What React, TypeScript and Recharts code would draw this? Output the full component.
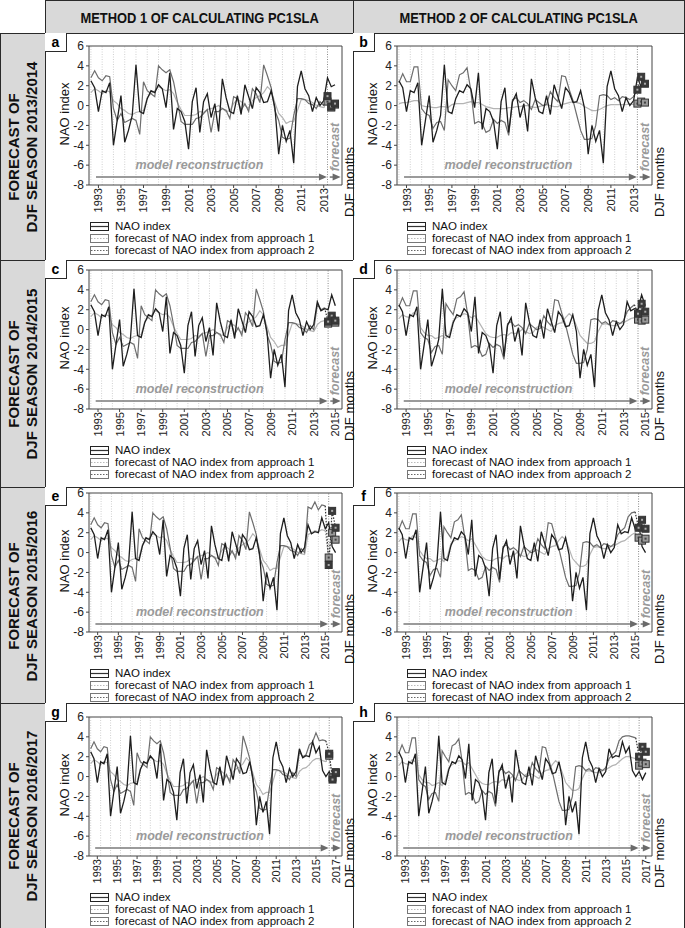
import React from 'react';
import { ComposedChart, Line, XAxis, YAxis, ReferenceLine } from 'recharts';

// DJF seasons (season "1993" = Dec 1992, Jan 1993, Feb 1993)
const SEASONS = [1993, 1994, 1995, 1996, 1997, 1998, 1999, 2000, 2001, 2002, 2003, 2004, 2005,
  2006, 2007, 2008, 2009, 2010, 2011, 2012, 2013, 2014, 2015, 2016, 2017];
const MONTH_POS = [-2 / 3, -1 / 3, 0]; // Dec, Jan, Feb inside a season
const Y_TICKS = [-8, -6, -4, -2, 0, 2, 4, 6];

const NAO_INDEX = [
  2.5, 1.8, -0.6, 1.5, 1.3, 2.3, -4.0, -1.5, 1.0, -3.7, -2.5, -1.0, 4.1, -0.6, -0.8,
  0.7, 1.5, 1.3, 2.1, 1.7, -0.2, 3.3, -2.4, -0.3, -0.6, -1.6, -4.4, 0.4, 1.8, -2.7,
  0.4, 1.2, -1.2, 0.2, -2.6, 2.7, 0.8, -0.6, -0.8, 1.0, -0.9, 2.1, 0.9, -0.3, 1.8,
  1.3, 0.3, 0.4, 1.5, -0.2, -4.9, -2.0, -3.6, -2.5, -5.8, 1.9, 3.5, 1.7, 1.0, -0.6,
  0.8, 0.0, 0.5, 2.8, 1.9, 2.1, 2.0, 3.5, 2.4, 3.0, 0.6, 0.0, 0.5, -0.3, 0.4,
];

// method 1 reconstructions
const M1_APPROACH1 = [
  1.3, 1.7, 1.5, 1.2, 1.5, 1.4, 0.5, 0.2, -0.3, -0.5, -0.8, -0.9, -0.7, -0.6, -0.5,
  0.8, 1.2, 1.5, 1.9, 1.7, 1.5, 1.6, 1.2, 0.3, -0.4, -1.0, -1.0, -1.0, -0.9, -0.6,
  -0.7, -0.4, -0.3, -0.2, 0.0, -0.3, -0.6, -0.5, 0.2, 0.6, 0.4, 0.0, -0.3, 0.5, 0.8,
  1.0, 1.3, 1.9, 1.5, 0.3, -0.8, -1.2, -1.8, -1.6, -1.6, -0.5, 0.6, 0.6, 0.5, 0.3,
  0.0, -0.1, -0.2, 0.5, 0.8, 0.9, 1.2, 1.6, 1.8, 1.8, 1.6, 1.5,
];
const M1_APPROACH2 = [
  2.8, 3.5, 2.8, 2.5, 3.0, 2.9, -0.3, -1.5, -0.8, -1.7, -1.5, -1.3, -1.5, -2.9, 2.4,
  1.5, 1.2, 0.9, 4.0, 3.6, 3.3, 3.6, 2.4, 0.5, -1.6, -1.9, -1.9, -1.9, -1.3, -1.2,
  -0.8, -0.4, -2.7, -0.6, -0.6, -0.3, -0.5, -1.3, 0.9, 0.7, -0.5, 0.2, -0.6, 1.7, 1.2,
  0.3, 4.1, 3.0, 1.8, -0.5, -1.5, -3.2, -3.4, -3.3, -1.0, 0.7, 0.7, 0.6, 0.2, 0.1,
  -0.3, 0.4, 0.0, 2.5, 2.0, 2.2, 3.2, 3.5, 4.4, 3.6, 3.7, 3.6,
];
// panel e: approach 2 reconstruction for seasons 2014-2015
const M1_APPROACH2_E_TAIL = [4.6, 4.4, 5.1, 4.3, 4.8, 4.7];
const M1_APPROACH1_E_TAIL = [1.8, 2.0, 2.2, 2.1, 2.3, 2.2];

// method 2 reconstructions
const M2_APPROACH1 = [
  1.1, 1.5, 1.3, 1.2, 1.7, 1.5, 0.2, -0.3, -0.6, -0.6, -0.9, -0.8, -0.6, -0.9, -0.4,
  0.9, 1.2, 1.4, 1.6, 1.5, 1.2, 1.4, 0.8, 0.2, -0.4, -0.7, -0.8, -0.8, -0.6, -0.5,
  -0.6, -0.3, -0.4, -0.3, 0.0, -0.2, -0.4, -0.3, 0.2, 0.4, 0.2, 0.0, -0.2, 0.4, 0.6,
  0.7, 1.2, 1.6, 1.3, 0.4, -0.6, -1.0, -1.4, -1.4, -1.2, -0.2, 0.5, 0.6, 0.5, 0.4,
  0.4, 0.6, 0.7, 0.9, 1.1, 1.2, 1.5, 1.8, 2.0, 2.0, 1.9, 1.8,
];
const M2_APPROACH1_B = [
  0.2, 0.3, 0.3, 0.4, 0.5, 0.5, 0.0, -0.1, -0.1, -0.2, -0.2, -0.1, -0.1, -0.2, 0.1,
  0.2, 0.2, 0.2, 0.3, 0.4, 0.3, 0.3, 0.1, -0.1, -0.2, -0.3, -0.3, -0.3, -0.3, -0.2,
  -0.2, -0.1, -0.1, 0.0, 0.0, -0.1, -0.2, -0.1, 0.0, 0.1, 0.0, -0.1, -0.1, 0.1, 0.2,
  0.3, 0.4, 0.3, 0.2, -0.1, -0.3, -0.5, -0.5, -0.4, -0.2, 0.0, 0.1, 0.1, 0.1, 0.1,
  0.1, 0.2, 0.1,
];
const M2_APPROACH2 = [
  2.3, 3.2, 2.4, 2.4, 3.9, 3.9, -0.3, -0.8, -1.0, -2.3, -1.7, -1.6, -2.5, 2.6, 2.0,
  1.5, 3.1, 3.3, 3.8, 1.5, -1.8, -1.6, -1.8, -2.7, -2.5, -1.4, -1.8, -1.5, -1.7, -3.0,
  0.6, 0.8, 0.3, 0.5, 0.2, -0.4, 0.6, 0.3, 0.0, 0.1, 1.4, 0.8, 0.4, 3.0, 2.9,
  1.6, 0.5, -1.0, -2.5, -3.4, -3.4, -3.3, -2.0, 1.0, 1.1, 1.0, 0.6, 0.8, 0.5, 0.9,
  0.8, 0.6, 0.9, 1.8, 2.2, 2.5, 3.6, 4.0, 4.1, 4.1, 4.0, 3.9,
];

// forecasts for the forecast season of each panel (Dec, Jan, Feb)
const FC1_A = [0.4, -0.2, 0.1];
const FC2_A = [0.95, -0.1, 0.2];
const FC1_B = [0.2, 0.4, 0.3];
const FC2_B = [1.6, 2.9, 2.2];
const FC1_C = [0.6, 1.0, 0.7];
const FC2_C = [0.8, 1.4, 0.9];
const FC1_D = [1.0, 0.9, 1.0];
const FC2_D = [1.6, 2.6, 1.8];
const FC1_E = [-0.5, 2.0, 1.3];
const FC2_E = [-1.25, 4.2, 2.5];
const FC1_F = [1.5, 1.2, 1.4];
const FC2_F = [2.5, 3.3, 2.4];
const FC1_G = [2.1, -0.1, 0.35];
const FC2_G = [2.3, -0.3, 0.45];
const FC1_H = [1.1, 1.4, 1.25];
const FC2_H = [2.0, 3.0, 2.5];

const HEADERS = ['METHOD 1 OF CALCULATING PC1SLA', 'METHOD 2 OF CALCULATING PC1SLA'];
const ROW_TITLES = ['DJF SEASON 2013/2014', 'DJF SEASON 2014/2015', 'DJF SEASON 2015/2016', 'DJF SEASON 2016/2017'];
const LEGEND = ['NAO index', 'forecast of NAO index from approach 1', 'forecast of NAO index from approach 2'];

type PanelDef = {
  label: string; col: number; row: number; season: number;
  recon1: number[]; recon2: number[]; fc1: number[]; fc2: number[];
  tail1?: number[]; tail2?: number[];
};

const PANELS: PanelDef[] = [
  { label: 'a', col: 0, row: 0, season: 2014, recon1: M1_APPROACH1, recon2: M1_APPROACH2, fc1: FC1_A, fc2: FC2_A },
  { label: 'b', col: 1, row: 0, season: 2014, recon1: M2_APPROACH1_B, recon2: M2_APPROACH2, fc1: FC1_B, fc2: FC2_B },
  { label: 'c', col: 0, row: 1, season: 2015, recon1: M1_APPROACH1, recon2: M1_APPROACH2, fc1: FC1_C, fc2: FC2_C },
  { label: 'd', col: 1, row: 1, season: 2015, recon1: M2_APPROACH1, recon2: M2_APPROACH2, fc1: FC1_D, fc2: FC2_D },
  { label: 'e', col: 0, row: 2, season: 2016, recon1: M1_APPROACH1, recon2: M1_APPROACH2, fc1: FC1_E, fc2: FC2_E,
    tail1: M1_APPROACH1_E_TAIL, tail2: M1_APPROACH2_E_TAIL },
  { label: 'f', col: 1, row: 2, season: 2016, recon1: M2_APPROACH1, recon2: M2_APPROACH2, fc1: FC1_F, fc2: FC2_F },
  { label: 'g', col: 0, row: 3, season: 2017, recon1: M1_APPROACH1, recon2: M1_APPROACH2, fc1: FC1_G, fc2: FC2_G },
  { label: 'h', col: 1, row: 3, season: 2017, recon1: M2_APPROACH1, recon2: M2_APPROACH2, fc1: FC1_H, fc2: FC2_H },
];

// layout
const HEAD_H = 33;
const LEFT_W = 45;
const ROWS = [
  { top: 33, h: 227, plotTop: 13 },
  { top: 260, h: 227, plotTop: 10 },
  { top: 487, h: 216, plotTop: 6 },
  { top: 703, h: 225, plotTop: 14 },
];
const COLS = [
  { left: 45, w: 308, yw: 44, mr: 11, legX: 45 },
  { left: 353, w: 332, yw: 44, mr: 33, legX: 54 },
];
const PLOT_H = 139;
const FONT = '"Liberation Sans", Arial, sans-serif';
const BORDER = '#2a2a2a';

function buildRows(p: PanelDef) {
  const last = SEASONS.indexOf(p.season);
  const rows: any[] = [];
  for (let s = 0; s <= last; s++) {
    for (let m = 0; m < 3; m++) {
      const i = s * 3 + m;
      const r: any = { x: SEASONS[s] + MONTH_POS[m], nao: NAO_INDEX[i] };
      if (s < last) {
        r.r1 = p.recon1[i];
        r.r2 = p.recon2[i];
      } else {
        r.f1 = p.fc1[m];
        r.f2 = p.fc2[m];
        r.sq = true;
      }
      rows.push(r);
    }
  }
  // panel-specific values for the last reconstructed seasons
  const t0 = last * 3 - 6;
  if (p.tail1) p.tail1.forEach((v, k) => { rows[t0 + k].r1 = v; });
  if (p.tail2) p.tail2.forEach((v, k) => { rows[t0 + k].r2 = v; });
  const join = rows[last * 3 - 1];
  join.f1 = join.r1;
  join.f2 = join.r2;
  return rows;
}

const squareDot = (fill: string, inner: string) => (props: any) => {
  const { cx, cy, payload, index } = props;
  if (!payload || !payload.sq || cx == null || cy == null) return <g key={index} />;
  return (
    <g key={index}>
      <rect x={cx - 3.5} y={cy - 3.5} width={7} height={7} fill={fill} stroke="#333" strokeWidth={1} />
      <rect x={cx - 1} y={cy - 1} width={2} height={2} fill={inner} />
    </g>
  );
};

const arrowShape = (kind: 'model' | 'fc') => (props: any) => {
  const { x1, y1, x2, y2 } = props;
  const ax = Number(x1), bx = Number(x2), y = Number(y1);
  return (
    <g>
      <line x1={ax} y1={y} x2={bx - 6} y2={Number(y2)} stroke="#7a7a7a" strokeWidth={1.6} />
      <polygon points={`${bx},${y} ${bx - 8},${y - 3.5} ${bx - 8},${y + 3.5}`} fill="#6a6a6a" />
      {kind === 'model' ? (
        <text x={(ax + bx) / 2 - 12} y={y - 12} textAnchor="middle" dominantBaseline="central"
          fontSize={12.5} fontStyle="italic" fontWeight="bold" fill="#9a9a9a" fontFamily={FONT}>
          model reconstruction
        </text>
      ) : (
        <text transform={`translate(${(ax + bx) / 2},${y - 30}) rotate(-90)`} textAnchor="middle"
          dominantBaseline="central" fontSize={12.5} fontStyle="italic" fontWeight="bold" fill="#9a9a9a" fontFamily={FONT}>
          forecast
        </text>
      )}
    </g>
  );
};

const YearTick = (props: any) => {
  const { x, y, payload } = props;
  return (
    <text transform={`translate(${x},${y - 2}) rotate(-90)`} textAnchor="end" dominantBaseline="central"
      fontSize={11} fill="#222" fontFamily={FONT}>
      {payload.value}
    </text>
  );
};

function LegendIcon({ kind }: { kind: number }) {
  const stroke = kind === 0 ? '#222' : '#777';
  return (
    <svg width={19} height={9} style={{ display: 'block' }}>
      <rect x={0.5} y={0.5} width={18} height={8} fill="#fff" stroke={stroke} strokeWidth={1} />
      <line x1={1} y1={4.5} x2={18} y2={4.5} stroke={kind === 0 ? '#333' : kind === 1 ? '#bbb' : '#666'}
        strokeWidth={kind === 0 ? 1.2 : 1} strokeDasharray={kind === 0 ? undefined : '1.5 1.5'} />
    </svg>
  );
}

function Panel({ p }: { p: PanelDef }) {
  const col = COLS[p.col];
  const row = ROWS[p.row];
  const data = buildRows(p);
  const first = SEASONS[0] + MONTH_POS[0];
  const last = p.season + MONTH_POS[2];
  const xMin = first - 0.17;
  const xMax = last + 0.62;
  const fcStart = p.season + MONTH_POS[0];
  const ticks = SEASONS.filter((y) => y % 2 === 1 && y <= p.season);
  const grid = SEASONS.filter((y) => y < p.season).map((y) => y + MONTH_POS[0]);
  const chartH = row.plotTop + PLOT_H + 32;

  return (
    <div style={{ position: 'absolute', left: col.left, top: row.top, width: col.w, height: row.h }}>
      <div style={{ position: 'absolute', left: 0, top: 0 }}>
        <ComposedChart width={col.w} height={chartH} data={data}
          margin={{ top: row.plotTop, right: col.mr, left: 0, bottom: 0 }}>
          <XAxis type="number" dataKey="x" domain={[xMin, xMax]} ticks={ticks} interval={0}
            allowDataOverflow tick={<YearTick />} tickLine={{ stroke: '#444' }} tickSize={3}
            axisLine={{ stroke: '#444' }} height={32} />
          <YAxis type="number" domain={[-8, 6]} ticks={Y_TICKS} interval={0} width={col.yw}
            tick={{ fontSize: 12, fill: '#222', fontFamily: FONT }} tickLine={{ stroke: '#444' }} tickSize={3}
            axisLine={{ stroke: '#444' }} allowDataOverflow />
          {grid.map((gx) => (
            <ReferenceLine key={gx} x={gx} stroke="#c4c4c4" strokeDasharray="1 1.5" strokeWidth={0.8} />
          ))}
          <ReferenceLine x={fcStart} stroke="#8a8a8a" strokeDasharray="1 1.5" strokeWidth={1} />
          <ReferenceLine y={6} stroke="#444" />
          <ReferenceLine x={xMax} stroke="#444" />
          <ReferenceLine segment={[{ x: first + 0.45, y: -7.2 }, { x: fcStart - 0.05, y: -7.2 }]}
            shape={arrowShape('model')} />
          <ReferenceLine segment={[{ x: fcStart + 0.2, y: -7.2 }, { x: xMax - 0.12, y: -7.2 }]}
            shape={arrowShape('fc')} />
          <Line type="linear" dataKey="r1" stroke="#b4b4b4" strokeWidth={1.2} dot={false} isAnimationActive={false} />
          <Line type="linear" dataKey="r2" stroke="#6e6e6e" strokeWidth={1.2} dot={false} isAnimationActive={false} />
          <Line type="linear" dataKey="nao" stroke="#1e1e1e" strokeWidth={1.3} dot={false} isAnimationActive={false} />
          <Line type="linear" dataKey="f1" stroke="#9a9a9a" strokeWidth={1.2} strokeDasharray="1.5 1.5"
            dot={squareDot('#9a9a9a', '#444')} activeDot={false} isAnimationActive={false} />
          <Line type="linear" dataKey="f2" stroke="#333" strokeWidth={1.2} strokeDasharray="1.5 1.5"
            dot={squareDot('#3a3a3a', '#aaa')} activeDot={false} isAnimationActive={false} />
        </ComposedChart>
      </div>
      {/* y axis title */}
      <div style={{
        position: 'absolute', left: 20, top: row.plotTop + PLOT_H / 2 - 2, transform: 'translate(-50%,-50%) rotate(-90deg)',
        fontSize: 13, fontFamily: FONT, color: '#111', whiteSpace: 'nowrap', lineHeight: '14px',
      }}>NAO index</div>
      {/* x axis title */}
      <div style={{
        position: 'absolute', left: col.w - col.mr + 8, top: row.plotTop + 136, transform: 'translate(-50%,-50%) rotate(-90deg)',
        fontSize: 13, fontFamily: FONT, color: '#111', whiteSpace: 'nowrap', lineHeight: '14px',
      }}>DJF months</div>
      {/* legend */}
      {LEGEND.map((t, i) => (
        <div key={t} style={{
          position: 'absolute', left: col.legX, top: row.plotTop + 180 + i * 12 - 6, height: 12,
          display: 'flex', alignItems: 'center', fontSize: 11.5, lineHeight: '12px', fontFamily: FONT, color: '#111', whiteSpace: 'nowrap',
        }}>
          <LegendIcon kind={i} />
          <span style={{ marginLeft: 6, lineHeight: '12px' }}>{t}</span>
        </div>
      ))}
      {/* panel letter */}
      <div style={{
        position: 'absolute', left: 0, top: 0, width: 22, height: 19, boxSizing: 'border-box',
        borderRight: `1px solid ${BORDER}`, borderBottom: `1px solid ${BORDER}`, background: '#fff',
        fontFamily: FONT, fontWeight: 'bold', fontSize: 14, display: 'flex', alignItems: 'center', justifyContent: 'center',
      }}>{p.label}</div>
    </div>
  );
}

export default function App() {
  return (
    <div style={{ position: 'relative', width: 685, height: 928, background: '#fff', overflow: 'hidden' }}>
      <style>{'body{margin:0}'}</style>
      {/* header row */}
      {HEADERS.map((h, i) => (
        <div key={h} style={{
          position: 'absolute', left: COLS[i].left, top: 0, width: COLS[i].w + (i === 0 ? 1 : 0), height: HEAD_H + 1,
          boxSizing: 'border-box', border: `1px solid ${BORDER}`, background: '#d9d9d9',
          display: 'flex', alignItems: 'center', justifyContent: 'center',
        }}>
          <span style={{ fontFamily: FONT, fontWeight: 'bold', fontSize: 15, transform: 'scaleX(0.86)', whiteSpace: 'nowrap', color: '#111' }}>{h}</span>
        </div>
      ))}
      {/* row titles */}
      {ROWS.map((r, i) => (
        <div key={i} style={{
          position: 'absolute', left: 0, top: r.top, width: LEFT_W + 1, height: r.h + 1, boxSizing: 'border-box',
          border: `1px solid ${BORDER}`, background: '#d9d9d9',
        }}>
          <div style={{
            position: 'absolute', left: '50%', top: '50%', transform: 'translate(-50%,-50%) rotate(-90deg)',
            whiteSpace: 'nowrap', textAlign: 'center', fontFamily: FONT, fontWeight: 'bold', fontSize: 15, lineHeight: '18px', color: '#111',
          }}>
            FORECAST OF<br />{ROW_TITLES[i]}
          </div>
        </div>
      ))}
      {/* panel cells */}
      {PANELS.map((p) => (
        <div key={'cell' + p.label} style={{
          position: 'absolute', left: COLS[p.col].left, top: ROWS[p.row].top, width: COLS[p.col].w + (p.col === 0 ? 1 : 0),
          height: ROWS[p.row].h + 1, boxSizing: 'border-box', border: `1px solid ${BORDER}`,
        }} />
      ))}
      {PANELS.map((p) => <Panel key={p.label} p={p} />)}
    </div>
  );
}
